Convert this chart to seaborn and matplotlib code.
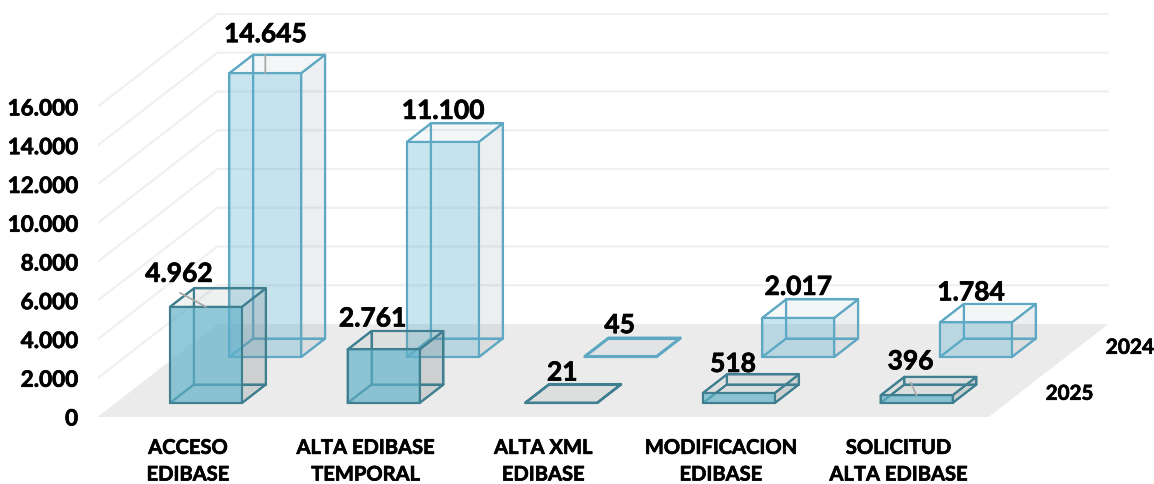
#barras 3D oblicuas: seaborn dibuja las caras frontales, el resto se proyecta desde ellas
import matplotlib
matplotlib.use("Agg")
import matplotlib.pyplot as plt
from matplotlib.colors import to_rgba
from matplotlib.patches import Polygon
import matplotlib.patheffects as pe
import pandas as pd
import seaborn as sns

categorias = ["ACCESO\nEDIBASE", "ALTA EDIBASE\nTEMPORAL", "ALTA XML\nEDIBASE",
              "MODIFICACION\nEDIBASE", "SOLICITUD\nALTA EDIBASE"]
valores_2025 = [4962, 2761, 21, 518, 396]
valores_2024 = [14645, 11100, 45, 2017, 1784]
ticks_y = [0, 2000, 4000, 6000, 8000, 10000, 12000, 14000, 16000]

W, H = 1154, 485
PX_X = 177.7      #px por categoria
PX_Y = 0.01938    #px por unidad
FONDO_X = 120 / PX_X   #desplazamiento de todo el suelo
FONDO_Y = 93 / PX_Y
grueso = [pe.withStroke(linewidth=0.5, foreground="black")]   #calibri bold es mas pesada que lato


def fmt(v):
    return f"{v:,}".replace(",", ".")


def proy(x, y, d):
    return x + d * FONDO_X, y + d * FONDO_Y


sns.set_theme(style="white")
plt.rcParams["font.family"] = ["Lato", "DejaVu Sans"]
plt.rcParams["font.weight"] = "bold"

df = pd.DataFrame({
    "categoria": categorias * 2,
    "valor": valores_2024 + valores_2025,
    "anio": ["2024"] * 5 + ["2025"] * 5,
})

fig = plt.figure(figsize=(W / 100, H / 100), dpi=100, facecolor="white")
ax = fig.add_axes([97.5 / W, (H - 418) / H, (1108 - 97) / W, 416 / H])
sns.barplot(data=df, x="categoria", y="valor", hue="anio", hue_order=["2024", "2025"],
            palette={"2024": "#59AFCE", "2025": "#5FB0C8"}, dodge=False, width=0.405,
            saturation=1, legend=False, ax=ax)

x_min, x_max = -0.509, 5.182
ax.set_xlim(x_min, x_max)
ax.set_ylim(0, 416 / PX_Y)
ax.set_xlabel("")
ax.set_ylabel("")
ax.set_yticks(ticks_y)
ax.set_yticklabels([fmt(t) for t in ticks_y], fontsize=16.2, fontweight="bold", color="black",
                   path_effects=grueso)
ax.tick_params(axis="y", length=0, pad=14)
ax.tick_params(axis="x", length=0, pad=15)
for lab in ax.get_xticklabels():
    lab.set_fontsize(14.5)
    lab.set_fontweight("bold")
    lab.set_color("black")
    lab.set_linespacing(1.42)
    lab.set_path_effects(grueso)
sns.despine(ax=ax, left=True, bottom=True)

#suelo y paredes
x_der = x_max - FONDO_X
ax.add_patch(Polygon([proy(x_min, 0, 0), proy(x_min, 0, 1), proy(x_der, 0, 1), proy(x_der, 0, 0)],
                     closed=True, fc="#EBEBEB", ec="none", zorder=1))
for t in ticks_y[1:]:
    p = [proy(x_min, t, 0), proy(x_min, t, 1), proy(x_der, t, 1)]
    ax.plot([q[0] for q in p], [q[1] for q in p], color="#F0F0F0", lw=1.6, zorder=1.1)

#estilo por serie: profundidad inicial, alpha, borde, laterales
estilos = [
    dict(d0=60 / 93, alpha=0.33, borde="#5FA8C4", lado="#8A9AA8", a_lado=0.14, a_tapa=0.07, z=2),
    dict(d0=14 / 93, alpha=0.68, borde="#3F7F90", lado="#7D8A90", a_lado=0.26, a_tapa=0.1, z=3),
]
prof = 18.5 / 93


def caja(patch, e):
    d0 = e["d0"]
    xa = patch.get_x() + d0 * FONDO_X
    xb = xa + patch.get_width()
    ya = d0 * FONDO_Y
    yb = ya + patch.get_height()
    patch.set_x(xa)
    patch.set_y(ya)
    dx, dy = prof * FONDO_X, prof * FONDO_Y
    #caras traseras, inferior, lateral y tapa, en ese orden
    base = [(xa, ya), (xb, ya), (xb + dx, ya + dy), (xa + dx, ya + dy)]
    fondo = [(xa + dx, ya + dy), (xb + dx, ya + dy), (xb + dx, yb + dy), (xa + dx, yb + dy)]
    izq = [(xa, ya), (xa + dx, ya + dy), (xa + dx, yb + dy), (xa, yb)]
    der = [(xb, ya), (xb + dx, ya + dy), (xb + dx, yb + dy), (xb, yb)]
    tapa = [(xa, yb), (xb, yb), (xb + dx, yb + dy), (xa + dx, yb + dy)]
    z = e["z"]
    for cara, a in [(base, 0.02), (fondo, 0.02), (izq, 0.0), (der, e["a_lado"]), (tapa, e["a_tapa"])]:
        ax.add_patch(Polygon(cara, closed=True, fc=to_rgba(e["lado"], a), ec="none", zorder=z))
        ax.add_patch(Polygon(cara, closed=True, fc="none", ec=e["borde"], lw=1.5, joinstyle="round", zorder=z + 0.1))
    patch.set_alpha(None)
    patch.set_facecolor(to_rgba(patch.get_facecolor(), e["alpha"]))
    patch.set_edgecolor(e["borde"])
    patch.set_linewidth(1.5)
    patch.set_zorder(z + 0.2)
    return (xa + xb) / 2, yb


#desplazamiento de cada etiqueta respecto al centro superior de su barra, en px
desp_2024 = [(0, 39), (0, 31), (-1, 31), (0, 31), (-5, 30)]
desp_2025 = [(-27, 33), (-11, 31), (1, 30), (-6, 29), (-6, 34)]
lineas_guia = {("2024", 0): (0, 18), ("2025", 0): (-26, 14), ("2025", 4): (-6, 13)}

for cont, e, vals, desp, anio in zip(ax.containers[:2], estilos, [valores_2024, valores_2025],
                                     [desp_2024, desp_2025], ["2024", "2025"]):
    for i, (patch, v, off) in enumerate(zip(cont.patches, vals, desp)):
        cx, top = caja(patch, e)
        if (anio, i) in lineas_guia:
            ax.annotate("", xy=(cx, top), xytext=lineas_guia[(anio, i)], textcoords="offset pixels",
                        arrowprops=dict(arrowstyle="-", color="#ABABAB", lw=1.3, shrinkA=0, shrinkB=0),
                        zorder=e["z"] + 0.3)
        ax.annotate(fmt(v), xy=(cx, top), xytext=off, textcoords="offset pixels", ha="center", va="center",
                    fontsize=19, fontweight="bold", color="black", zorder=6, path_effects=grueso)

#etiquetas del eje de profundidad
for anio, e, off, tam in [("2024", estilos[0], 52, 15), ("2025", estilos[1], 51, 14.8)]:
    d = e["d0"] + prof / 2
    ax.annotate(anio, xy=proy(x_der, 0, d), xytext=(off, 0), textcoords="offset pixels", ha="center", va="center",
                fontsize=tam, fontweight="bold", color="black", annotation_clip=False, path_effects=grueso)

fig.savefig("out.png", dpi=100)
